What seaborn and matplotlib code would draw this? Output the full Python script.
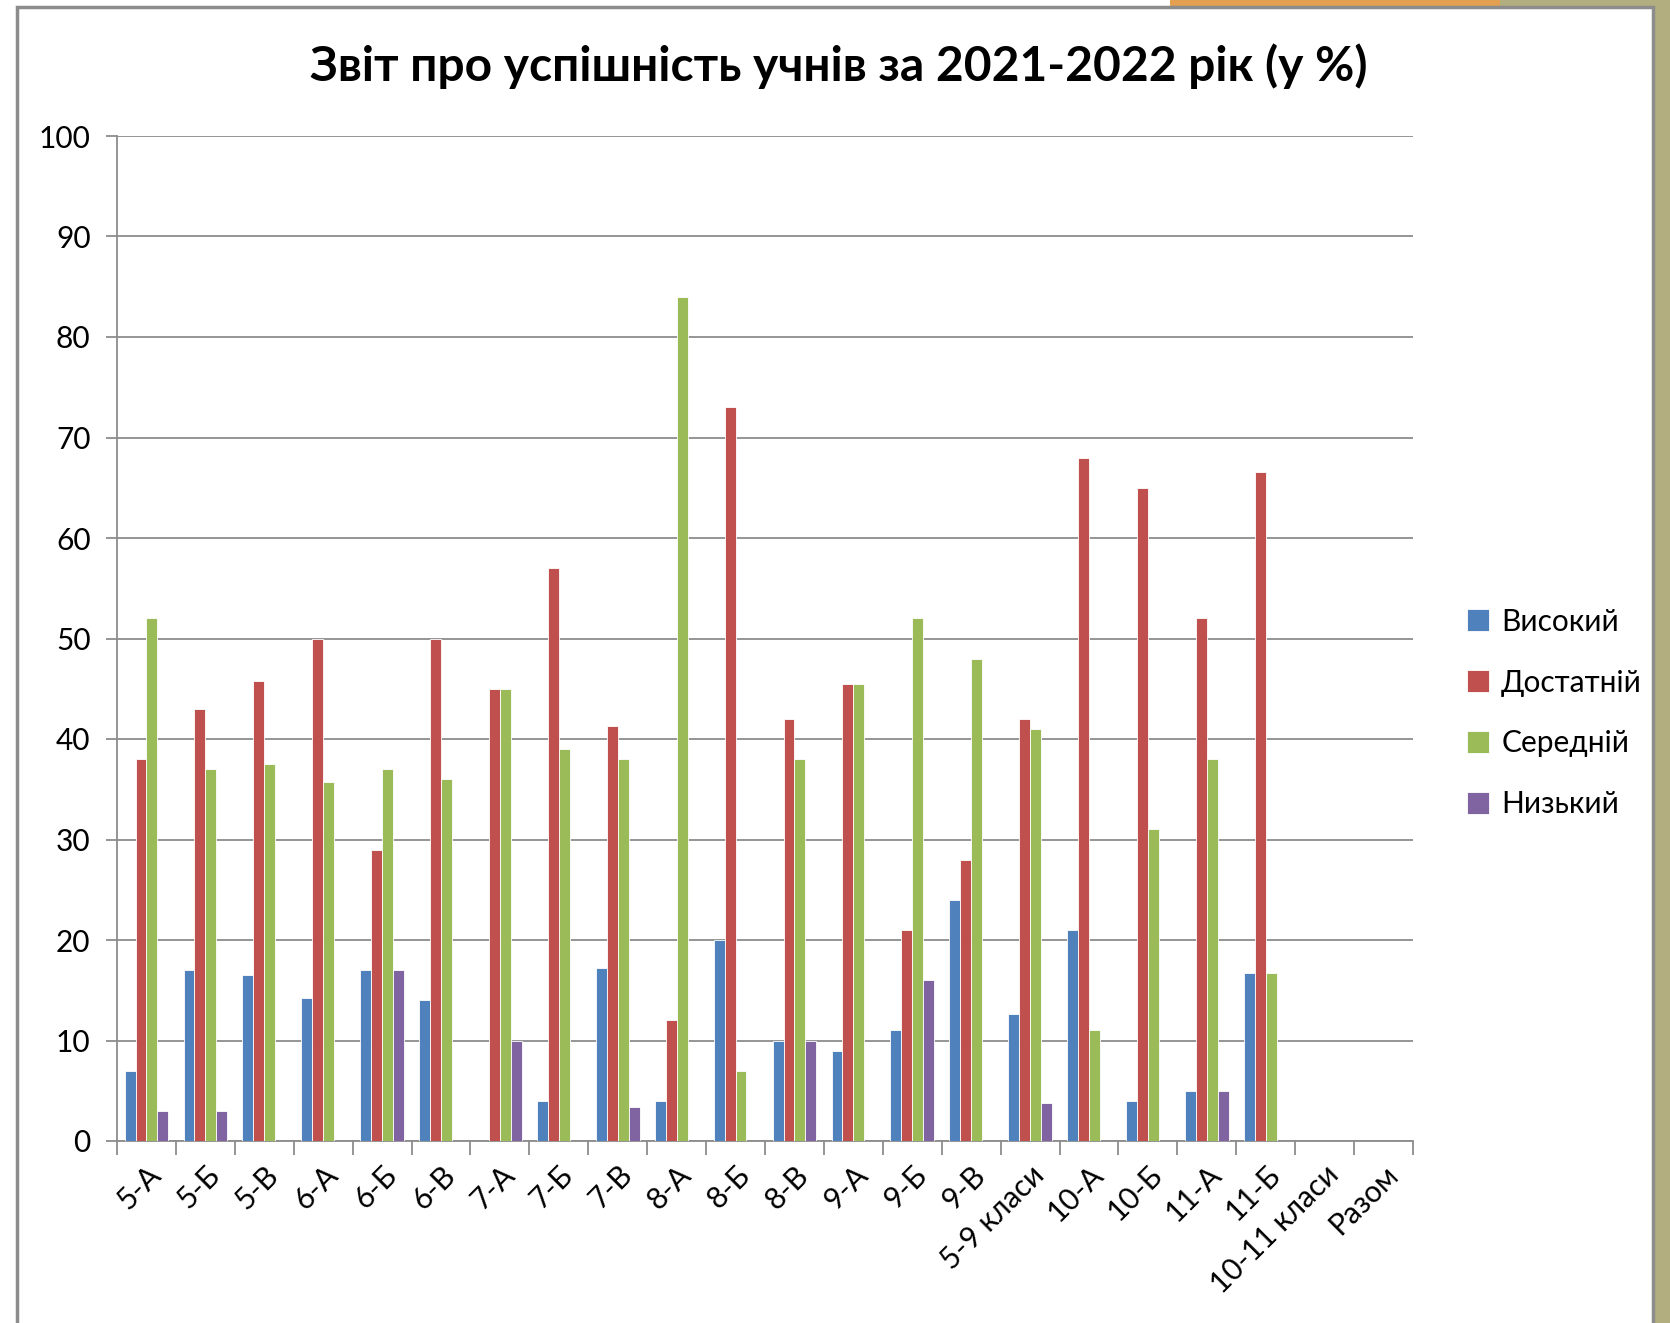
import numpy as np
import pandas as pd
import seaborn as sns
import matplotlib.pyplot as plt
from matplotlib.patches import Rectangle
from matplotlib.ticker import MultipleLocator, FixedLocator

classes = ['5-А', '5-Б', '5-В', '6-А', '6-Б', '6-В', '7-А', '7-Б', '7-В', '8-А', '8-Б',
           '8-В', '9-А', '9-Б', '9-В', '5-9 класи', '10-А', '10-Б', '11-А', '11-Б',
           '10-11 класи', 'Разом']
levels = ['Високий', 'Достатній', 'Середній', 'Низький']

vysokyi = [7, 17, 16.5, 14.2, 17, 14, 0, 4, 17.2, 4, 20, 10, 9, 11, 24, 12.6, 21, 4, 5, 16.7, 0, 0]
dostatnii = [38, 43, 45.8, 50, 29, 50, 45, 57, 41.3, 12, 73, 42, 45.5, 21, 28, 42, 68, 65, 52, 66.6, 0, 0]
serednii = [52, 37, 37.5, 35.7, 37, 36, 45, 39, 38, 84, 7, 38, 45.5, 52, 48, 41, 11, 31, 38, 16.7, 0, 0]
nyzkyi = [3, 3, 0, 0, 17, 0, 10, 0, 3.4, 0, 0, 10, 0, 16, 0, 3.8, 0, 0, 5, 0, 0, 0]

colors = ['#4F81BD', '#C0504D', '#9BBB59', '#8064A2']

rows = []
for lvl, vals in zip(levels, [vysokyi, dostatnii, serednii, nyzkyi]):
    for c, v in zip(classes, vals):
        rows.append({'class': c, 'level': lvl, 'value': v})
df = pd.DataFrame(rows)

sns.set_style('white')
plt.rcParams['font.family'] = ['Lato', 'DejaVu Sans']
plt.rcParams['text.color'] = 'black'
plt.rcParams['xtick.color'] = 'black'
plt.rcParams['ytick.color'] = 'black'

fig = plt.figure(figsize=(16.7, 13.23), dpi=100)
fig.patch.set_facecolor('white')

# slide background bits around the chart frame
fig.add_artist(Rectangle((1653 / 1670, 0), 17 / 1670, 1, transform=fig.transFigure,
                         facecolor='#B3AE80', edgecolor='none', zorder=0))
fig.add_artist(Rectangle((1170 / 1670, 1 - 7 / 1323), 330 / 1670, 7 / 1323, transform=fig.transFigure,
                         facecolor='#E2A050', edgecolor='none', zorder=0))
fig.add_artist(Rectangle((1500 / 1670, 1 - 7 / 1323), 170 / 1670, 7 / 1323, transform=fig.transFigure,
                         facecolor='#B3AE80', edgecolor='none', zorder=0))
fig.add_artist(Rectangle((17 / 1670, -0.01), 1636 / 1670, 1 - 7 / 1323 + 0.01, transform=fig.transFigure,
                         facecolor='white', edgecolor='#8C8C8C', linewidth=2.5, zorder=0.5))

ax = fig.add_axes([117 / 1670, 1 - 1141 / 1323, 1296 / 1670, 1005 / 1323])
ax.set_zorder(2)
ax.set_facecolor('none')

sns.barplot(data=df, x='class', y='value', hue='level', order=classes, hue_order=levels,
            palette=colors, width=0.74, gap=0, saturation=1, linewidth=0.6,
            edgecolor='white', ax=ax, zorder=3)

ax.set_xlim(-0.5, len(classes) - 0.5)
ax.set_ylim(0, 100)
ax.yaxis.set_major_locator(MultipleLocator(10))
ax.grid(axis='y', color='#8C8C8C', linewidth=1.3, zorder=0)
ax.set_axisbelow(True)

for s in ['top', 'right']:
    ax.spines[s].set_visible(False)
for s in ['left', 'bottom']:
    ax.spines[s].set_color('#8C8C8C')
    ax.spines[s].set_linewidth(1.3)

ax.tick_params(axis='y', which='major', length=8, width=1.3, color='#8C8C8C',
               labelsize=21.5, pad=11, left=True, labelcolor='black')
ax.xaxis.set_minor_locator(FixedLocator(np.arange(-0.5, len(classes), 1.0)))
ax.tick_params(axis='x', which='major', length=0, labelsize=21.5, pad=14, labelcolor='black')
ax.tick_params(axis='x', which='minor', length=10, width=1.3, color='#8C8C8C', bottom=True)
ax.set_xticks(range(len(classes)))
ax.set_xticklabels(classes, rotation=45, ha='right', rotation_mode='anchor')

ax.set_xlabel('')
ax.set_ylabel('')

leg = ax.legend(loc='center left', bbox_to_anchor=(1440 / 1670, 1 - 713 / 1323),
                bbox_transform=fig.transFigure, frameon=False, fontsize=21.5,
                handlelength=0.75, handleheight=0.75, handletextpad=0.4, labelspacing=1.1)
for t in leg.get_texts():
    t.set_color('black')

fig.text(839 / 1670, 1 - 66 / 1323, 'Звіт про успішність учнів за 2021-2022 рік (у %)',
         ha='center', va='center', fontsize=34.5, fontweight='bold', color='black')

fig.savefig('out.png', dpi=100)
plt.close(fig)
